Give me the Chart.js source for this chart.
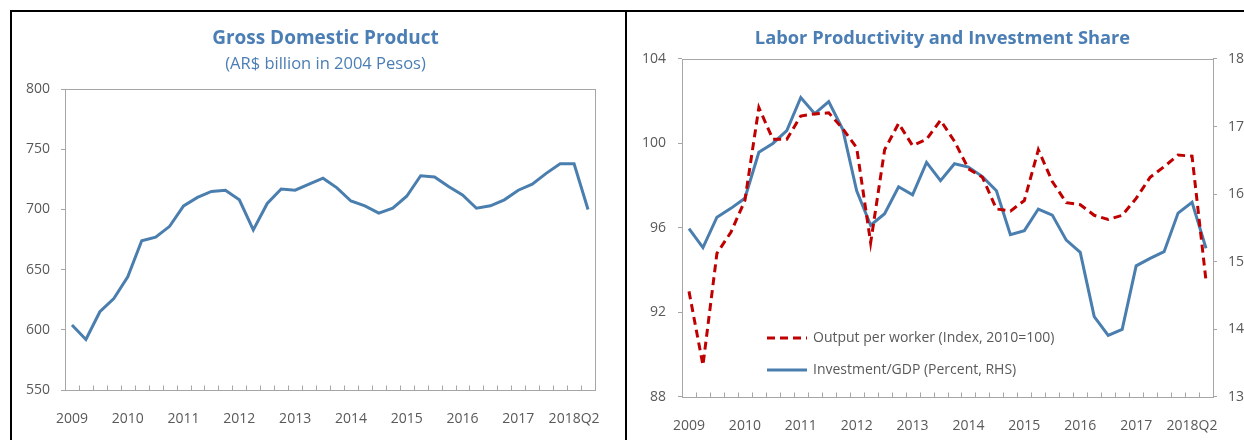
<!DOCTYPE html>
<html>
<head>
<meta charset="utf-8">
<script src="https://cdn.jsdelivr.net/npm/chart.js@4.4.0/dist/chart.umd.min.js"></script>
<style>
  html, body { margin: 0; padding: 0; background: #fff; }
  #frame { position: absolute; left: 10px; top: 10px; width: 1234px; height: 430px;
           border-top: 2px solid #000; border-left: 2px solid #000; }
  #divider { position: absolute; left: 625px; top: 10px; width: 2px; height: 430px; background: #000; }
  #gdpChart { position: absolute; left: 12px; top: 12px; }
  #prodChart { position: absolute; left: 627px; top: 12px; }
</style>
</head>
<body>
<div id="frame"></div>
<div id="divider"></div>
<canvas id="gdpChart" width="613" height="428"></canvas>
<canvas id="prodChart" width="617" height="428"></canvas>
<script>
'use strict';

/* ── data (quarterly, 2009Q1 – 2018Q2) ─────────────────────── */
const categories = [
    '2009Q1', '2009Q2', '2009Q3', '2009Q4', '2010Q1', '2010Q2', '2010Q3', '2010Q4',
    '2011Q1', '2011Q2', '2011Q3', '2011Q4', '2012Q1', '2012Q2', '2012Q3', '2012Q4',
    '2013Q1', '2013Q2', '2013Q3', '2013Q4', '2014Q1', '2014Q2', '2014Q3', '2014Q4',
    '2015Q1', '2015Q2', '2015Q3', '2015Q4', '2016Q1', '2016Q2', '2016Q3', '2016Q4',
    '2017Q1', '2017Q2', '2017Q3', '2017Q4', '2018Q1', '2018Q2'
];
// one label every 4 quarters
const tickLabels = ['2009', '2010', '2011', '2012', '2013', '2014', '2015', '2016', '2017', '2018Q2'];

const gdp = [
    604, 592, 615, 626, 644, 674, 677, 686,
    703, 710, 715, 716, 708, 683, 705, 717,
    716, 721, 726, 718, 707, 703, 697, 701,
    711, 728, 727, 719, 712, 701, 703, 708,
    716, 721, 730, 738, 738, 700
];
const outputPerWorker = [
    93.0, 89.5, 94.8, 95.8, 97.3, 101.7, 100.2, 100.2,
    101.3, 101.4, 101.45, 100.7, 99.8, 95.3, 99.7, 100.95,
    99.9, 100.2, 101.1, 100.1, 98.8, 98.4, 96.9, 96.8,
    97.3, 99.7, 98.2, 97.2, 97.1, 96.6, 96.4, 96.6,
    97.4, 98.4, 98.9, 99.45, 99.4, 93.5
];
const investmentShare = [
    15.49, 15.21, 15.66, 15.79, 15.94, 16.62, 16.75, 16.94,
    17.43, 17.19, 17.37, 16.96, 16.05, 15.54, 15.71, 16.11,
    15.99, 16.47, 16.2, 16.45, 16.4, 16.26, 16.05, 15.4,
    15.46, 15.78, 15.69, 15.32, 15.14, 14.19, 13.91, 14.0,
    14.94, 15.05, 15.15, 15.72, 15.88, 15.2
];

const gdpRange = [550, 800, 50];        // min, max, step
const outputRange = [88, 104, 4];
const investRange = [13, 18, 1];

/* ── styles ────────────────────────────────────────────────── */
const BLUE = '#4A7EAF';
const RED = '#C00000';
const TITLE = '#4A7EB4';
const TEXT = '#595959';
const AXIS = '#A6A6A6';
const FONT = '"Open Sans", sans-serif';

Chart.defaults.font.family = FONT;
Chart.defaults.color = TEXT;

/* Box round the plot area + inward quarter tick marks on the x axis. */
const framePlugin = {
    id: 'frame',
    beforeDatasetsDraw(chart) {
        const ctx = chart.ctx;
        const a = chart.chartArea;
        const x = chart.scales.x;
        ctx.save();
        ctx.strokeStyle = AXIS;
        ctx.lineWidth = 1;
        ctx.strokeRect(Math.round(a.left) + 0.5, Math.round(a.top) + 0.5,
                       Math.round(a.right - a.left), Math.round(a.bottom - a.top));
        const half = (x.getPixelForValue(1) - x.getPixelForValue(0)) / 2;
        const base = Math.round(a.bottom) + 0.5;
        ctx.beginPath();
        for (let i = 0; i <= categories.length; i++) {
            const px = Math.round(x.getPixelForValue(i) - half) + 0.5;
            ctx.moveTo(px, base);
            ctx.lineTo(px, base - 5);
        }
        ctx.stroke();
        ctx.restore();
    }
};

/* Legend drawn inside the plot area (lower left). */
const innerLegend = {
    id: 'innerLegend',
    afterDatasetsDraw(chart) {
        const ctx = chart.ctx;
        const a = chart.chartArea;
        const x0 = a.left + 85;
        const rows = [a.top + 279, a.top + 311];
        chart.data.datasets.forEach(function (ds, i) {
            const y = rows[i];
            ctx.save();
            ctx.strokeStyle = ds.borderColor;
            ctx.lineWidth = ds.borderWidth;
            ctx.setLineDash(ds.borderDash || []);
            ctx.beginPath();
            ctx.moveTo(x0, y);
            ctx.lineTo(x0 + 40, y);
            ctx.stroke();
            ctx.setLineDash([]);
            ctx.fillStyle = TEXT;
            ctx.font = '14px ' + FONT;
            ctx.textBaseline = 'middle';
            ctx.fillText(ds.label, x0 + 46, y);
            ctx.restore();
        });
    }
};

function xAxis(height) {
    return {
        type: 'category',
        offset: true,
        grid: { display: false },
        border: { display: false },
        ticks: {
            autoSkip: false,
            maxRotation: 0,
            padding: 13,
            font: { size: 14 },
            color: TEXT,
            callback: function (v, i) { return i % 4 === 0 ? tickLabels[i / 4] : ''; }
        },
        afterFit: function (s) { s.height = height; }
    };
}

// width = space the axis box takes (labels are clipped to it)
function yAxis(range, position, width, pad) {
    return {
        position: position,
        min: range[0],
        max: range[1],
        grid: { display: true, drawOnChartArea: false, drawTicks: true, tickLength: 4, color: AXIS },
        border: { display: false },
        ticks: { stepSize: range[2], padding: pad, font: { size: 14 }, color: TEXT },
        afterFit: function (s) { s.width = width; }
    };
}

// empty spacer axis, only reserves room on the right
function spacerAxis(width) {
    return {
        position: 'right',
        grid: { display: false },
        border: { display: false },
        ticks: { display: false },
        afterFit: function (s) { s.width = width; }
    };
}

/* ── Gross Domestic Product ────────────────────────────────── */
new Chart(document.getElementById('gdpChart'), {
    type: 'line',
    data: {
        labels: categories,
        datasets: [{
            label: 'GDP',
            data: gdp,
            borderColor: BLUE,
            borderWidth: 3,
            pointRadius: 0,
            tension: 0
        }]
    },
    options: {
        responsive: false,
        animation: false,
        layout: { padding: { left: 14, right: 0, top: 0, bottom: 0 } },
        plugins: {
            legend: { display: false },
            tooltip: { enabled: false },
            title: {
                display: true,
                text: 'Gross Domestic Product',
                color: TITLE,
                font: { size: 19, weight: 'bold' },
                padding: { top: 15.5, bottom: 0 }
            },
            subtitle: {
                display: true,
                text: '(AR$ billion in 2004 Pesos)',
                color: TITLE,
                font: { size: 16.5 },
                padding: { top: 4.5, bottom: 14.5 }
            }
        },
        scales: {
            x: xAxis(50),
            y: yAxis(gdpRange, 'left', 39, 11),
            pad: spacerAxis(30)
        }
    },
    plugins: [framePlugin]
});

/* ── Labor Productivity and Investment Share ───────────────── */
new Chart(document.getElementById('prodChart'), {
    type: 'line',
    data: {
        labels: categories,
        datasets: [{
            label: 'Output per worker (Index, 2010=100)',
            data: outputPerWorker,
            borderColor: RED,
            borderWidth: 3,
            borderDash: [8, 5],
            pointRadius: 0,
            tension: 0,
            yAxisID: 'y'
        }, {
            label: 'Investment/GDP (Percent, RHS)',
            data: investmentShare,
            borderColor: BLUE,
            borderWidth: 3,
            pointRadius: 0,
            tension: 0,
            yAxisID: 'y1'
        }]
    },
    options: {
        responsive: false,
        animation: false,
        layout: { padding: { left: 14, right: 0, top: 0, bottom: 0 } },
        plugins: {
            legend: { display: false },
            tooltip: { enabled: false },
            title: {
                display: true,
                text: 'Labor Productivity and Investment Share',
                color: TITLE,
                font: { size: 18.3, weight: 'bold' },
                padding: { top: 16, bottom: 9 }
            }
        },
        scales: {
            x: xAxis(43),
            y: yAxis(outputRange, 'left', 41, 12),
            y1: yAxis(investRange, 'right', 31, 11)
        }
    },
    plugins: [framePlugin, innerLegend]
});
</script>
</body>
</html>
